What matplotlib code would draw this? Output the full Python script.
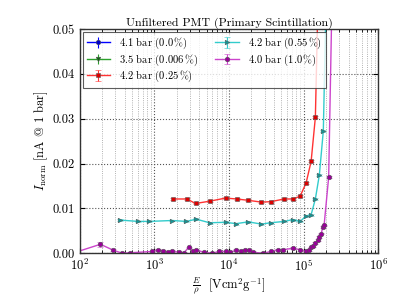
import matplotlib
matplotlib.use("Agg")
import matplotlib.pyplot as plt
import numpy as np

plt.rcParams["font.family"] = "serif"
plt.rcParams["font.serif"] = ["cmr10", "DejaVu Serif"]
plt.rcParams["mathtext.fontset"] = "cm"
plt.rcParams["axes.formatter.use_mathtext"] = True
plt.rcParams["xtick.direction"] = "in"
plt.rcParams["ytick.direction"] = "in"
plt.rcParams["xtick.top"] = True
plt.rcParams["ytick.right"] = True

# 4.1 bar (0.0 %) and 3.5 bar (0.006 %) not visible in range
e_41 = []
i_41 = []
e_35 = []
i_35 = []

# 4.2 bar (0.25 %)
e_42a = [1770, 2720, 3560, 5480, 8970, 12700, 18060, 27200, 36300, 54800,
         71300, 89700, 108000, 126000, 143600, 160000]
i_42a = [0.0121, 0.0121, 0.0111, 0.0116, 0.0123, 0.0121, 0.0118, 0.0114, 0.0115, 0.0121,
         0.0121, 0.0127, 0.0157, 0.0205, 0.0303, 0.065]

# 4.2 bar (0.55 %)
e_42b = [343, 603, 847, 1738, 2673, 3640, 5480, 8970, 12470, 18070,
         27230, 36230, 54830, 71300, 89750, 108000, 126000, 143600, 162500, 183600, 205000]
i_42b = [0.0074, 0.0071, 0.0071, 0.0073, 0.0071, 0.0076, 0.0068, 0.0069, 0.0066, 0.0070,
         0.0065, 0.0068, 0.0071, 0.0075, 0.0071, 0.0083, 0.0086, 0.0121, 0.0175, 0.0273, 0.065]

# 4.0 bar (1.0 %)
e_40 = [70, 189, 279, 372, 466, 938, 1117, 1303, 1520, 1738, 2133, 2462, 2903, 3283, 3640,
        4560, 5960, 7310, 8980, 10370, 12480, 14560, 16290, 18420, 21280, 28320, 36640,
        44980, 53580, 71400, 89700, 107900, 117000, 126000, 135000, 143600, 154300,
        162500, 172800, 180000, 188000, 216500, 245000]
i_40 = [-0.0003, 0.0020, 0.0007, 0.0000, 0.0001, 0.0004, 0.0008, 0.0005, 0.0003, 0.0005,
        0.0002, 0.0001, 0.0013, 0.0004, 0.0008, 0.0002, 0.0000, 0.0004, 0.0004, 0.0002,
        0.0007, 0.0004, 0.0007, 0.0007, 0.0002, 0.0000, 0.0004, 0.0008, 0.0008, 0.0011,
        0.0008, 0.0004, 0.0007, 0.0013, 0.0017, 0.0023, 0.0029, 0.0036, 0.0044, 0.0059,
        0.0062, 0.0170, 0.065]
err_40 = [0.0003, 0.0006] + [0.0002] * (len(e_40) - 2)

fig = plt.figure(figsize=(3.99, 2.99), dpi=100)
ax = fig.add_axes([0.2, 0.153, 0.748, 0.75])

series = [
    (e_41, i_41, "o", "b", "#0000cc", r"4.1 bar (0.0$\,$%)"),
    (e_35, i_35, "v", "#2ca02c", "#116611", r"3.5 bar (0.006$\,$%)"),
    (e_42a, i_42a, "s", "#ff3333", "#dd0000", r"4.2 bar (0.25$\,$%)"),
    (e_42b, i_42b, ">", "#33cccc", "#119999", r"4.2 bar (0.55$\,$%)"),
    (e_40, i_40, "o", "#cc44cc", "#990099", r"4.0 bar (1.0$\,$%)"),
]
for e, i, m, lc, mc, lab in series:
    if e is e_40:
        yerr = err_40
    else:
        yerr = [0.0002] * len(e)
    ax.errorbar(np.array(e, dtype=float), np.array(i, dtype=float),
                yerr=np.array(yerr, dtype=float), fmt="-", marker=m, color=lc,
                mfc=mc, mec="#555555", mew=0.4, ms=3.3, lw=1.0, capsize=2.5,
                ecolor=lc, elinewidth=0.8, label=lab)

ax.set_xscale("log")
ax.set_xlim(1e2, 1e6)
ax.set_ylim(0, 0.05)
ax.set_yticks([0.0, 0.01, 0.02, 0.03, 0.04, 0.05])
ax.set_yticklabels(["0.00", "0.01", "0.02", "0.03", "0.04", "0.05"])
ax.grid(True, which="major", linestyle=":", color="#555555", lw=0.8)
ax.grid(True, which="minor", axis="x", linestyle=":", color="#999999", lw=0.6)
ax.tick_params(labelsize=9)
for s in ax.spines.values():
    s.set_linewidth(1.0)
    s.set_color("#333333")

ax.set_title("Unfiltered PMT (Primary Scintillation)", fontsize=8.6, pad=2)
ax.set_ylabel(r"$I_{\rm norm}$ [nA @ 1 bar]", fontsize=9, labelpad=2)
ax.set_xlabel(r"$\frac{E}{\rho}$  [Vcm$^2$g$^{-1}$]", fontsize=9, labelpad=1)

leg = ax.legend(loc="upper left", ncol=2, fontsize=7.6, frameon=True, fancybox=False,
                borderaxespad=0.3, handlelength=2.2, handletextpad=0.9,
                columnspacing=1.6, labelspacing=0.12, borderpad=0.35)
leg.get_frame().set_edgecolor("#333333")
leg.get_frame().set_linewidth(0.8)

fig.savefig("out.png", dpi=100)
